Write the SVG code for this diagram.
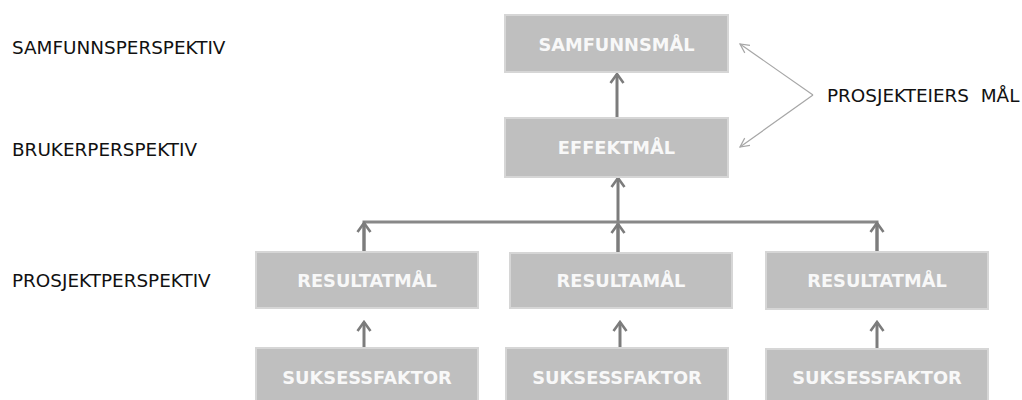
<svg xmlns="http://www.w3.org/2000/svg" width="1022" height="400" viewBox="0 0 1022 400">
<style>
.box{fill:#bfbfbf;stroke:#d6d6d6;stroke-width:2}
.bt{font-family:"DejaVu Sans",Verdana,sans-serif;font-weight:bold;font-size:17.8px;fill:#f8f8f8;text-anchor:middle}
.lbl{font-family:"DejaVu Sans",Verdana,sans-serif;font-size:18.4px;fill:#111}
.con{stroke:#7c7c7c;stroke-width:3;fill:none}
.thin{stroke:#a6a6a6;stroke-width:1.2;fill:none}
</style>
<defs>
<marker id="ah" viewBox="-12 -10 14 20" refX="0" refY="0" markerWidth="14" markerHeight="20" markerUnits="userSpaceOnUse" orient="auto">
<path d="M-9,-6.5 L0,0 L-9,6.5" fill="none" stroke="#7c7c7c" stroke-width="2.6"/>
</marker>
<marker id="ah2" viewBox="-12 -8 14 16" refX="0" refY="0" markerWidth="14" markerHeight="16" markerUnits="userSpaceOnUse" orient="auto">
<path d="M-9,-4.5 L0,0 L-9,4.5" fill="none" stroke="#a6a6a6" stroke-width="1.2"/>
</marker>
</defs>
<g id="labels">
<text class="lbl" x="12" y="54">SAMFUNNSPERSPEKTIV</text>
<text class="lbl" x="12" y="156">BRUKERPERSPEKTIV</text>
<text class="lbl" x="12" y="287">PROSJEKTPERSPEKTIV</text>
<text class="lbl" x="827" y="102" xml:space="preserve">PROSJEKTEIERS  MÅL</text>
</g>
<g id="connectors">
<line class="con" x1="617" y1="118" x2="617" y2="74" marker-end="url(#ah)"/>
<line class="con" x1="618" y1="252" x2="618" y2="178" marker-end="url(#ah)"/>
<line class="con" x1="618" y1="252" x2="618" y2="224" marker-end="url(#ah)"/>
<polyline class="con" points="364,252 364,222 877,222 877,252" style="stroke:#888"/>
<line class="con" x1="364" y1="252" x2="364" y2="223" marker-end="url(#ah)"/>
<line class="con" x1="877" y1="252" x2="877" y2="223" marker-end="url(#ah)"/>
<line class="con" x1="364" y1="348" x2="364" y2="322" marker-end="url(#ah)"/>
<line class="con" x1="620" y1="348" x2="620" y2="322" marker-end="url(#ah)"/>
<line class="con" x1="877" y1="349" x2="877" y2="322" marker-end="url(#ah)"/>
<polyline class="thin" points="813,95 740,44" marker-end="url(#ah2)"/>
<polyline class="thin" points="813,95 740,147" marker-end="url(#ah2)"/>
</g>
<g id="samfunnsmal"><rect class="box" x="505" y="15" width="223" height="57"/><text class="bt" x="616.5" y="51">SAMFUNNSMÅL</text></g>
<g id="effektmal"><rect class="box" x="505" y="118" width="223" height="59"/><text class="bt" x="616.5" y="154">EFFEKTMÅL</text></g>
<g id="resultat1"><rect class="box" x="256" y="252" width="222" height="56"/><text class="bt" x="367" y="287">RESULTATMÅL</text></g>
<g id="resultat2"><rect class="box" x="510" y="253" width="222" height="55"/><text class="bt" x="621" y="287">RESULTAMÅL</text></g>
<g id="resultat3"><rect class="box" x="766" y="252" width="222" height="57"/><text class="bt" x="877" y="287">RESULTATMÅL</text></g>
<g id="suksess1"><rect class="box" x="256" y="348" width="222" height="58"/><text class="bt" x="367" y="384">SUKSESSFAKTOR</text></g>
<g id="suksess2"><rect class="box" x="506" y="348" width="222" height="58"/><text class="bt" x="617" y="384">SUKSESSFAKTOR</text></g>
<g id="suksess3"><rect class="box" x="766" y="349" width="222" height="58"/><text class="bt" x="877" y="384">SUKSESSFAKTOR</text></g>
</svg>
